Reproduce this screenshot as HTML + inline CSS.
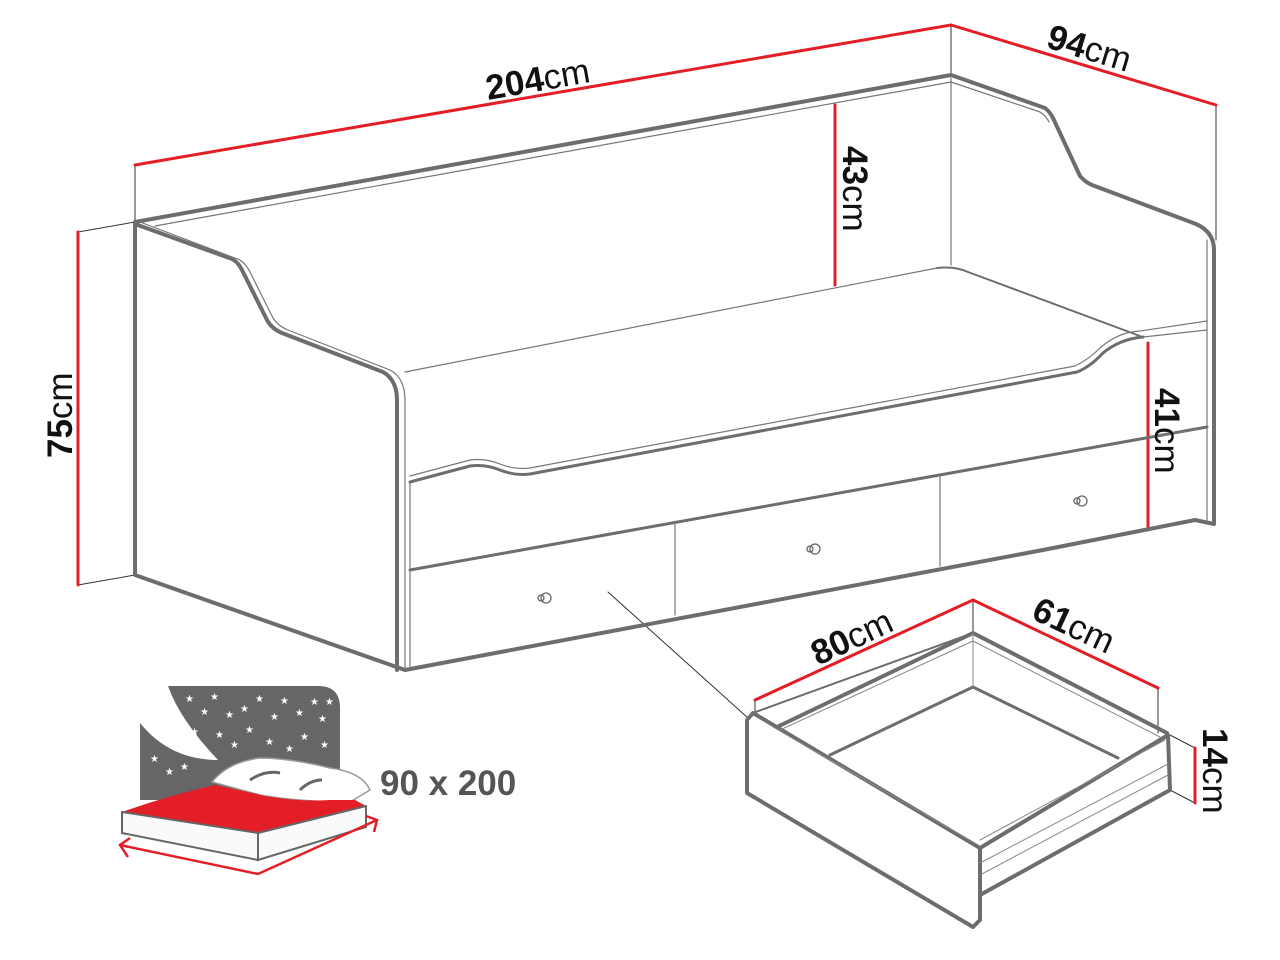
<!DOCTYPE html>
<html><head><meta charset="utf-8"><style>
html,body{margin:0;padding:0;background:#fff;}
svg{display:block;}
.lbl text{font-family:"Liberation Sans",sans-serif;fill:#111;}
</style></head><body>
<svg width="1280" height="960" viewBox="0 0 1280 960" xmlns="http://www.w3.org/2000/svg">
<g fill="none" stroke-linejoin="round" stroke-linecap="round">
<g stroke="#333" stroke-width="1">
<line x1="135" y1="165" x2="135" y2="222"/>
<line x1="951" y1="25" x2="951" y2="75"/>
<line x1="1216" y1="105" x2="1216" y2="240"/>
<line x1="78" y1="232" x2="135" y2="222"/>
<line x1="78" y1="585" x2="135" y2="575"/>
<line x1="608" y1="592" x2="748" y2="718"/>
</g>
<g stroke="#e41e26" stroke-width="3">
<line x1="135" y1="165" x2="951" y2="25"/>
<line x1="951" y1="25" x2="1216" y2="105"/>
<line x1="78" y1="232" x2="78" y2="585"/>
<line x1="835" y1="105" x2="835" y2="285"/>
<line x1="1148" y1="343" x2="1148" y2="530"/>
</g>
<g stroke="#6d6d6d" stroke-width="4">
<path d="M135,222 L951,75 L1045,108 Q1050,112 1053,118 L1080,176 Q1085,182 1092,185 L1196,224 Q1214,232 1214,250 L1214,524 L1195,520 L1043,550 L405,670 L135,575 Z"/>
<path d="M135,224 L232,259 Q238,262 242,270 L267,320 Q272,329 282,333 L383,372 Q397,380 397,400 L397,670"/>
<path d="M410,570 L1207,427" stroke-width="3"/>
<path d="M410,482 L470,466 Q485,464 500,470 Q515,476 530,474 L1077,372 Q1090,367 1103,353 Q1120,339 1143,337" stroke-width="3"/>
<path d="M937,268 Q955,266 968,272 L1140,336" stroke-width="2"/>
</g>
<g stroke="#777" stroke-width="1.2">
<path d="M140,222 L240,260 Q246,264 250,272 L273,318 Q278,326 288,330 L390,370 Q405,378 405,400 L405,670"/>
<path d="M155,226 L951,82 L1040,112 Q1046,116 1049,122"/>
<line x1="405" y1="372" x2="937" y2="268"/>
<line x1="1207" y1="240" x2="1207" y2="522"/>
<line x1="951" y1="78" x2="951" y2="265"/>
<path d="M410,476 L470,460 Q485,458 500,464 Q515,470 530,468 L1075,366 Q1088,360 1100,348 Q1118,332 1140,331 L1207,321"/>
<line x1="1143" y1="337" x2="1207" y2="330"/>
<line x1="675" y1="523" x2="675" y2="615"/>
<line x1="940" y1="476" x2="940" y2="566"/>
<line x1="410" y1="483" x2="410" y2="668"/>
<line x1="1150" y1="437" x2="1207" y2="428"/>
</g>
<g stroke="#666" stroke-width="1.3">
<circle cx="546" cy="598" r="5"/><circle cx="541" cy="598" r="3"/>
<circle cx="815" cy="549" r="5"/><circle cx="810" cy="549" r="3"/>
<circle cx="1082" cy="501" r="5"/><circle cx="1077" cy="501" r="3"/>
</g>
<g stroke="#333" stroke-width="1">
<line x1="755" y1="700" x2="755" y2="713"/>
<line x1="973" y1="600" x2="973" y2="633"/>
<line x1="1158" y1="688" x2="1158" y2="733"/>
<line x1="1170" y1="735" x2="1195" y2="748"/>
<line x1="1170" y1="790" x2="1195" y2="803"/>
</g>
<g stroke="#e41e26" stroke-width="3">
<line x1="755" y1="700" x2="973" y2="600"/>
<line x1="973" y1="600" x2="1158" y2="688"/>
<line x1="1195" y1="748" x2="1195" y2="803"/>
</g>
<g stroke="#6d6d6d" stroke-width="4">
<path d="M747,720 L753,713 L980,848 L980,920 L973,927 L747,793 Z"/>
<path d="M980,848 L1168,735 L1170,790 L980,895"/>
<path d="M777,727 L973,633 L1167,733"/>
<path d="M753,713 L973,633" stroke-width="2"/>
<path d="M830,755 L973,687 L1118,758" stroke-width="3"/>
</g>
<g stroke="#888" stroke-width="1">
<line x1="973" y1="633" x2="973" y2="687"/>
<line x1="780" y1="730" x2="973" y2="641"/>
<line x1="973" y1="641" x2="1160" y2="737"/>
<line x1="773" y1="727" x2="980" y2="846"/>
<line x1="980" y1="840" x2="1165" y2="740"/>
<line x1="980" y1="863" x2="1168" y2="764"/>
<line x1="980" y1="875" x2="1168" y2="775"/>
</g>
</g>
<path d="M168,686 L318,686 Q340,686 340,708 L340,800 L140,800 L140,723 Q170,760 218,760 Q180,720 168,686 Z" fill="#666"/>
<g font-size="10" font-family="DejaVu Sans, sans-serif">
<text x="185" y="702" style="fill:#fff">★</text><text x="210" y="700" style="fill:#fff">★</text><text x="255" y="702" style="fill:#fff">★</text><text x="280" y="704" style="fill:#fff">★</text><text x="310" y="705" style="fill:#fff">★</text><text x="325" y="705" style="fill:#fff">★</text>
<text x="200" y="715" style="fill:#fff">★</text><text x="225" y="718" style="fill:#fff">★</text><text x="240" y="712" style="fill:#fff">★</text><text x="270" y="720" style="fill:#fff">★</text><text x="295" y="716" style="fill:#fff">★</text><text x="318" y="722" style="fill:#fff">★</text>
<text x="190" y="735" style="fill:#fff">★</text><text x="215" y="738" style="fill:#fff">★</text><text x="245" y="733" style="fill:#fff">★</text><text x="265" y="745" style="fill:#fff">★</text><text x="300" y="740" style="fill:#fff">★</text><text x="320" y="748" style="fill:#fff">★</text>
<text x="150" y="762" style="fill:#fff">★</text><text x="165" y="775" style="fill:#fff">★</text><text x="180" y="770" style="fill:#fff">★</text><text x="230" y="748" style="fill:#fff">★</text><text x="285" y="752" style="fill:#fff">★</text>
</g>
<path d="M212,782 Q228,762 260,758 Q290,758 330,768 Q362,772 370,790 L350,802 Q300,802 260,795 Z" fill="#fff" stroke="#999" stroke-width="1.5"/>
<path d="M250,780 Q265,770 280,773 M300,790 Q310,780 322,780" stroke="#666" stroke-width="3" fill="none"/>
<path d="M122,812 Q170,795 215,785 Q240,790 265,796 Q300,802 330,800 L355,800 L366,806 L258,833 Z" fill="#e41e26"/>
<path d="M122,812 L258,833 L258,860 L122,833 Z" fill="#fafafa" stroke="#666" stroke-width="2"/>
<path d="M258,833 L366,806 L366,827 L258,860 Z" fill="#fafafa" stroke="#666" stroke-width="2"/>
<g stroke="#e41e26" stroke-width="2.5" fill="none">
<path d="M120,845 L258,874 L377,820"/>
<path d="M130,838 L120,845 L128,857"/>
<path d="M366,816 L377,820 L374,832"/>
</g>
<g class="lbl" font-size="35">
<text transform="translate(488,100) rotate(-10)"><tspan font-weight="bold">204</tspan>cm</text>
<text transform="translate(1045,47) rotate(17)"><tspan font-weight="bold">94</tspan>cm</text>
<text transform="translate(843,146) rotate(90)"><tspan font-weight="bold">43</tspan>cm</text>
<text transform="translate(1155,388) rotate(90)"><tspan font-weight="bold">41</tspan>cm</text>
<text transform="translate(72,458) rotate(-90)"><tspan font-weight="bold">75</tspan>cm</text>
<text transform="translate(818,666) rotate(-25)"><tspan font-weight="bold">80</tspan>cm</text>
<text transform="translate(1030,618) rotate(25)"><tspan font-weight="bold">61</tspan>cm</text>
<text transform="translate(1203,728) rotate(90)"><tspan font-weight="bold">14</tspan>cm</text>
</g>
<text x="380" y="795" font-size="35" font-weight="bold" font-family="Liberation Sans, sans-serif" style="fill:#555">90 x 200</text>
</svg>
</body></html>
